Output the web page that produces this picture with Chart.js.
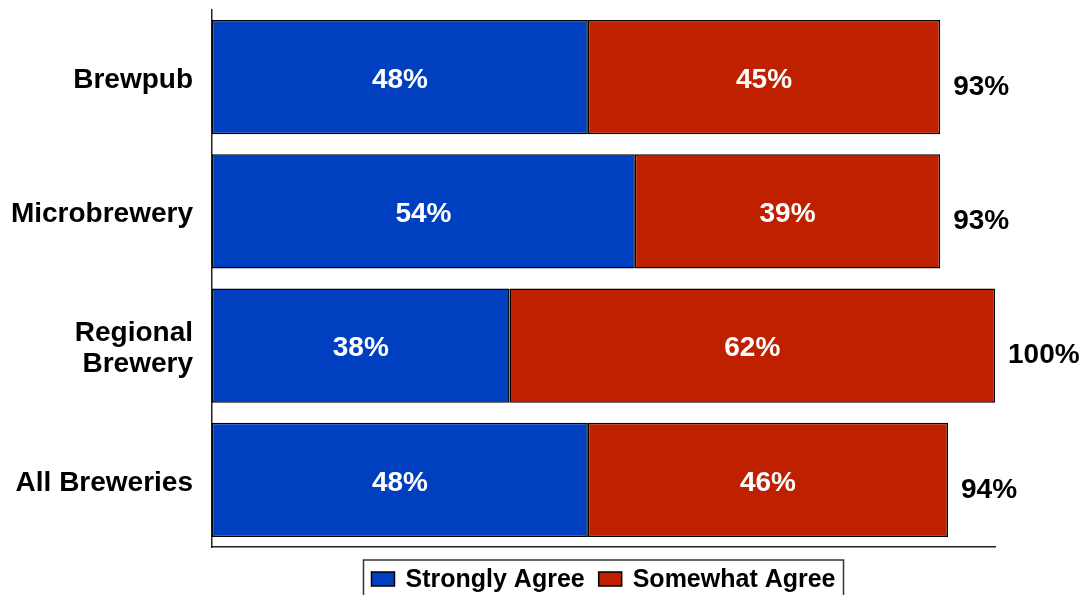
<!DOCTYPE html>
<html>
<head>
<meta charset="utf-8">
<script src="https://cdn.jsdelivr.net/npm/chart.js@4.4.1/dist/chart.umd.min.js"></script>
<style>
  html, body { margin: 0; padding: 0; background: #fff; }
  #wrap { width: 1084px; height: 595px; position: relative; }
</style>
</head>
<body>
<div id="wrap"><canvas id="c" width="1084" height="595"></canvas></div>
<script>
const categories = ["Brewpub", "Microbrewery", ["Regional", "Brewery"], "All Breweries"];
const seriesNames = ["Strongly Agree", "Somewhat Agree"];
const stronglyAgree = [48, 54, 38, 48];
const somewhatAgree = [45, 39, 62, 46];
const seriesColors = ["#0040C0", "#BF2000"];

const FONT = "'Liberation Sans', Arial, Helvetica, sans-serif";

const labelPlugin = {
  id: 'labels',
  afterDatasetsDraw(chart) {
    const ctx = chart.ctx;
    ctx.save();
    ctx.font = `bold 28px ${FONT}`;
    ctx.textAlign = 'center';
    ctx.textBaseline = 'middle';
    ctx.fillStyle = '#ffffff';
    chart.data.datasets.forEach((ds, di) => {
      const meta = chart.getDatasetMeta(di);
      meta.data.forEach((bar, i) => {
        const p = bar.getProps(['x', 'y', 'base'], true);
        ctx.fillText(ds.data[i] + '%', (p.x + p.base) / 2, p.y + 3);
      });
    });
    // totals
    ctx.fillStyle = '#000000';
    ctx.textAlign = 'left';
    const last = chart.getDatasetMeta(chart.data.datasets.length - 1);
    last.data.forEach((bar, i) => {
      const total = chart.data.datasets.reduce((s, d) => s + d.data[i], 0);
      const p = bar.getProps(['x', 'y'], true);
      ctx.fillText(total + '%', p.x + 13, p.y + 10);
    });
    ctx.restore();
  },
  afterDraw(chart) {
    // legend
    const ctx = chart.ctx;
    const area = chart.chartArea;
    ctx.save();
    ctx.font = `bold 25px ${FONT}`;
    const boxW = 23, boxH = 14, gapText = 11, gapItem = 14, pad = 8;
    const widths = chart.data.datasets.map(d => boxW + gapText + ctx.measureText(d.label).width);
    const total = widths.reduce((a, b) => a + b, 0) + gapItem * (widths.length - 1);
    const cx = (area.left + area.right) / 2;
    let x = cx - total / 2;
    const top = 560;
    ctx.strokeStyle = '#333';
    ctx.lineWidth = 1.5;
    ctx.strokeRect(x - pad, top, total + 2 * pad, 45);
    chart.data.datasets.forEach((d, i) => {
      ctx.fillStyle = d.backgroundColor;
      ctx.fillRect(x, 572, boxW, boxH);
      ctx.strokeStyle = '#000';
      ctx.lineWidth = 1.5;
      ctx.strokeRect(x, 572, boxW, boxH);
      ctx.fillStyle = '#000';
      ctx.textAlign = 'left';
      ctx.textBaseline = 'alphabetic';
      ctx.fillText(d.label, x + boxW + gapText, 587);
      x += widths[i] + gapItem;
    });
    ctx.restore();
  }
};

new Chart(document.getElementById('c'), {
  type: 'bar',
  data: {
    labels: categories,
    datasets: [
      { label: seriesNames[0], data: stronglyAgree, backgroundColor: seriesColors[0] },
      { label: seriesNames[1], data: somewhatAgree, backgroundColor: seriesColors[1] }
    ]
  },
  options: {
    indexAxis: 'y',
    responsive: false,
    animation: false,
    devicePixelRatio: 1,
    datasets: {
      bar: {
        borderColor: '#000',
        borderWidth: 1.5,
        borderSkipped: false,
        barPercentage: 0.85,
        categoryPercentage: 1.0
      }
    },
    layout: { padding: { top: 10, right: 89, bottom: 48, left: 0 } },
    plugins: {
      legend: { display: false },
      tooltip: { enabled: false }
    },
    scales: {
      x: {
        stacked: true,
        min: 0,
        max: 100,
        afterFit(scale) { scale.paddingLeft = 0; scale.paddingRight = 0; },
        ticks: { display: false },
        grid: { display: false, drawTicks: false },
        border: { display: true, color: '#222', width: 1.5 }
      },
      y: {
        stacked: true,
        afterFit(scale) { scale.width = 212; scale.paddingTop = 0; scale.paddingBottom = 0; },
        ticks: {
          color: '#000',
          padding: 19,
          labelOffset: 3,
          font: { family: FONT, size: 28, weight: 'bold', lineHeight: 1.12 }
        },
        grid: { display: false, drawTicks: false },
        border: { display: true, color: '#222', width: 1.5 }
      }
    }
  },
  plugins: [labelPlugin]
});
</script>
</body>
</html>
